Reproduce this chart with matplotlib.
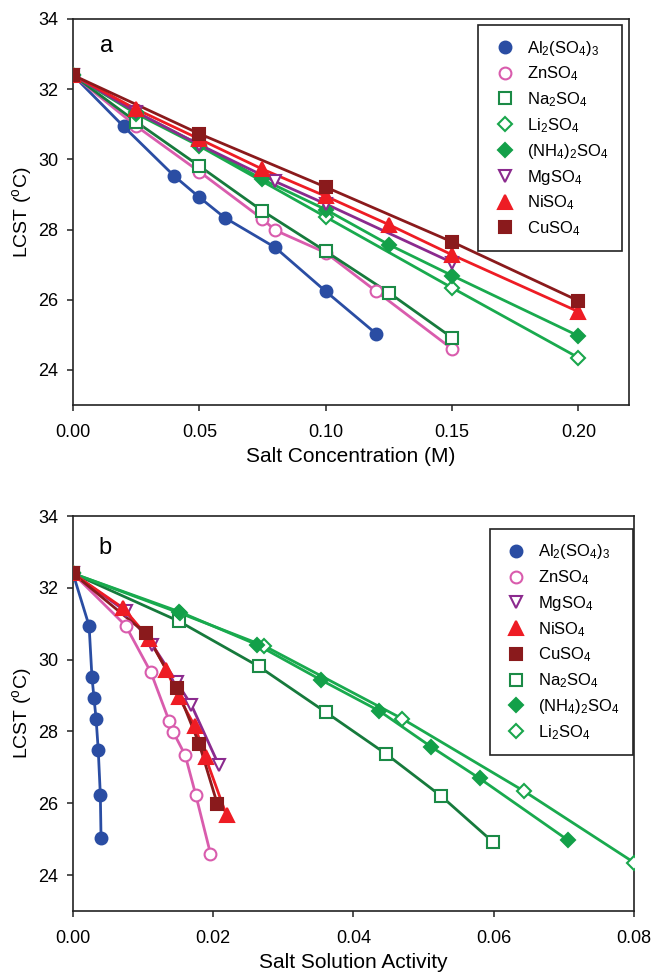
import matplotlib
matplotlib.use('Agg')
import matplotlib.pyplot as plt
from matplotlib.lines import Line2D

plt.rcParams['font.family'] = ['Liberation Sans', 'DejaVu Sans']
plt.rcParams['mathtext.fontset'] = 'custom'
plt.rcParams['mathtext.rm'] = 'Liberation Sans'
plt.rcParams['mathtext.it'] = 'Liberation Sans:italic'
plt.rcParams['mathtext.default'] = 'regular'

# LCST vs salt concentration (M) and vs salt solution activity
al_c = [0, 0.02, 0.04, 0.05, 0.06, 0.08, 0.10, 0.12]
al_t = [32.4, 30.94, 29.53, 28.92, 28.34, 27.49, 26.24, 25.03]
al_a = [0, 0.0023, 0.0027, 0.0030, 0.0033, 0.0036, 0.0039, 0.0040]

zn_c = [0, 0.025, 0.05, 0.075, 0.08, 0.10, 0.12, 0.15]
zn_t = [32.4, 30.95, 29.65, 28.30, 27.98, 27.34, 26.24, 24.60]
zn_a = [0, 0.0075, 0.0111, 0.0137, 0.0143, 0.0160, 0.0175, 0.0196]

na_c = [0, 0.025, 0.05, 0.075, 0.10, 0.125, 0.15]
na_t = [32.4, 31.07, 29.81, 28.53, 27.38, 26.20, 24.92]
na_a = [0, 0.0151, 0.0265, 0.0361, 0.0446, 0.0525, 0.0599]

li_c = [0, 0.025, 0.05, 0.10, 0.15, 0.20]
li_t = [32.4, 31.30, 30.38, 28.36, 26.34, 24.35]
li_a = [0, 0.0152, 0.0273, 0.0469, 0.0643, 0.0800]

nh_c = [0, 0.025, 0.05, 0.075, 0.10, 0.125, 0.15, 0.20]
nh_t = [32.4, 31.34, 30.42, 29.43, 28.57, 27.57, 26.69, 24.97]
nh_a = [0, 0.0151, 0.0262, 0.0354, 0.0437, 0.0511, 0.0580, 0.0706]

mg_c = [0, 0.025, 0.05, 0.08, 0.10, 0.15]
mg_t = [32.4, 31.35, 30.42, 29.37, 28.73, 27.06]
mg_a = [0, 0.0075, 0.0113, 0.0148, 0.0169, 0.0208]

ni_c = [0, 0.025, 0.05, 0.075, 0.10, 0.125, 0.15, 0.20]
ni_t = [32.4, 31.43, 30.58, 29.72, 28.95, 28.14, 27.28, 25.66]
ni_a = [0, 0.0072, 0.0109, 0.0133, 0.0151, 0.0174, 0.0189, 0.0219]

cu_c = [0, 0.05, 0.10, 0.15, 0.20]
cu_t = [32.4, 30.73, 29.21, 27.65, 25.97]
cu_a = [0, 0.0104, 0.0148, 0.0180, 0.0206]

labels = {
    'al': r'Al$_2$(SO$_4$)$_3$',
    'zn': r'ZnSO$_4$',
    'na': r'Na$_2$SO$_4$',
    'li': r'Li$_2$SO$_4$',
    'nh': r'(NH$_4$)$_2$SO$_4$',
    'mg': r'MgSO$_4$',
    'ni': r'NiSO$_4$',
    'cu': r'CuSO$_4$',
}

# color, marker, filled, line color
style = {
    'al': ('#2a4da3', 'o', True, '#2a4da3'),
    'zn': ('#d95cad', 'o', False, '#d95cad'),
    'na': ('#1b8a46', 's', False, '#167a3c'),
    'li': ('#19a64c', 'D', False, '#19aa4e'),
    'nh': ('#13a049', 'D', True, '#19aa4e'),
    'mg': ('#8b2a8e', 'v', False, '#8b2a8e'),
    'ni': ('#ee1c24', '^', True, '#ee1c24'),
    'cu': ('#8a1a1c', 's', True, '#8a1a1c'),
}
msize = {'o': 8.5, 's': 8.5, 'D': 7.5, 'v': 9, '^': 9.5}

conc = {'al': (al_c, al_t), 'zn': (zn_c, zn_t), 'na': (na_c, na_t),
        'li': (li_c, li_t), 'nh': (nh_c, nh_t), 'mg': (mg_c, mg_t),
        'ni': (ni_c, ni_t), 'cu': (cu_c, cu_t)}
act = {'al': (al_a, al_t), 'zn': (zn_a, zn_t), 'na': (na_a, na_t),
       'li': (li_a, li_t), 'nh': (nh_a, nh_t), 'mg': (mg_a, mg_t),
       'ni': (ni_a, ni_t), 'cu': (cu_a, cu_t)}


def draw(ax, data, order):
    for k in ['al', 'zn', 'na', 'li', 'nh', 'mg', 'ni', 'cu']:
        c, m, filled, lc = style[k]
        x, y = data[k]
        ax.plot(x, y, color=lc, lw=2.0, zorder=2)
        ax.plot(x, y, ls='none', marker=m, ms=msize[m], mew=1.5,
                mec=c, mfc=c if filled else 'white', zorder=3)
    handles = []
    for k in order:
        c, m, filled, lc = style[k]
        handles.append(Line2D([], [], ls='none', marker=m, ms=msize[m], mew=1.5,
                              mec=c, mfc=c if filled else 'white', label=labels[k]))
    return handles


def style_axes(ax):
    ax.set_ylim(23, 34)
    ax.set_yticks([24, 26, 28, 30, 32, 34])
    for s in ax.spines.values():
        s.set_linewidth(1.2)
        s.set_color('#222222')
    ax.tick_params(direction='out', length=4, width=1.1, labelsize=13,
                   top=False, right=False, color='#222222')
    ax.tick_params(axis='x', pad=9.5)
    ax.tick_params(axis='y', pad=6.5)
    ax.set_ylabel(r'LCST ($^{\rm o}$C)', fontsize=14, labelpad=3)


def add_legend(ax, handles, anchor):
    leg = ax.legend(handles=handles, loc='upper right', bbox_to_anchor=anchor,
                    borderaxespad=0, fontsize=12, labelspacing=0.42,
                    handlelength=1.6, handletextpad=0.5, borderpad=0.8,
                    fancybox=False, framealpha=1, edgecolor='#222222')
    leg.get_frame().set_linewidth(1.2)
    return leg


fig = plt.figure(figsize=(6.54, 9.74), dpi=100)

ax1 = fig.add_axes([0.1116, 0.5842, 0.850, 0.3963])
h1 = draw(ax1, conc, ['al', 'zn', 'na', 'li', 'nh', 'mg', 'ni', 'cu'])
style_axes(ax1)
ax1.set_xlim(0, 0.22)
ax1.set_xticks([0, 0.05, 0.10, 0.15, 0.20])
ax1.set_xticklabels(['0.00', '0.05', '0.10', '0.15', '0.20'])
ax1.set_xlabel('Salt Concentration (M)', fontsize=15, labelpad=4.5)
ax1.text(0.061, 0.93, 'a', transform=ax1.transAxes, fontsize=17,
         ha='center', va='center')
add_legend(ax1, h1, (0.987, 0.984))

ax2 = fig.add_axes([0.1116, 0.0647, 0.8578, 0.4055])
h2 = draw(ax2, act, ['al', 'zn', 'mg', 'ni', 'cu', 'na', 'nh', 'li'])
style_axes(ax2)
ax2.set_xlim(0, 0.08)
ax2.set_xticks([0, 0.02, 0.04, 0.06, 0.08])
ax2.set_xticklabels(['0.00', '0.02', '0.04', '0.06', '0.08'])
ax2.set_xlabel('Salt Solution Activity', fontsize=15, labelpad=4.5)
ax2.text(0.057, 0.92, 'b', transform=ax2.transAxes, fontsize=17,
         ha='center', va='center')
add_legend(ax2, h2, (0.998, 0.967))

fig.savefig('out.png', dpi=100)
